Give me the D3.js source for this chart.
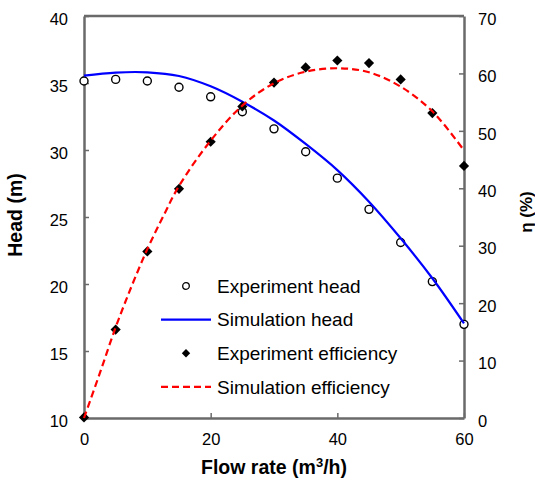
<!DOCTYPE html>
<html>
<head>
<meta charset="utf-8">
<script src="https://cdn.jsdelivr.net/npm/d3@7"></script>
<style>
  body { margin: 0; background: #fff; }
  text { font-family: "Liberation Sans", Arial, Helvetica, sans-serif; fill: #000; }
</style>
</head>
<body>
<div id="chart"></div>
<script>
// measured values
const flow = [0, 5, 10, 15, 20, 25, 30, 35, 40, 45, 50, 55, 60];
const expHead = [35.15, 35.27, 35.15, 34.68, 33.97, 32.86, 31.58, 29.87, 27.9, 25.57, 23.1, 20.18, 16.99];
const expEff = [0.1, 15.4, 29.0, 39.9, 48.1, 54.25, 58.4, 61.05, 62.25, 61.8, 58.95, 53.1, 43.9];

// simulation curves
const simHeadFlow = [0, 5, 10, 15, 20, 25, 30, 35, 40, 45, 50, 55, 60];
const simHead = [35.55, 35.78, 35.8, 35.52, 34.75, 33.6, 32.2, 30.45, 28.5, 26.14, 23.41, 20.43, 17.06];
const simEffFlow = [0, 2.5, 5, 7.5, 10, 12.5, 15, 20, 25, 30, 35, 40, 45, 50, 55, 60];
const simEff = [0, 7.8, 15.8, 22.9, 29.4, 35.1, 40.4, 48.3, 54.4, 58.3, 60.3, 60.9, 60.2, 57.7, 53.4, 46.6];

const xTicks = [0, 20, 40, 60];
const headTicks = [10, 15, 20, 25, 30, 35, 40];
const effTicks = [0, 10, 20, 30, 40, 50, 60, 70];
const legendLabels = ["Experiment head", "Simulation head", "Experiment efficiency", "Simulation efficiency"];

const W = 535, H = 484;
const margin = {top: 16, right: 71, bottom: 66, left: 84};
const width = W - margin.left - margin.right;
const height = H - margin.top - margin.bottom;
const axisColor = "#6a6a6a";

const svg = d3.select("#chart").append("svg")
    .attr("width", W)
    .attr("height", H);

const g = svg.append("g")
    .attr("transform", `translate(${margin.left},${margin.top})`);

const x = d3.scaleLinear().domain([0, 60]).range([0, width]);
const yL = d3.scaleLinear().domain([10, 40]).range([height, 0]);
const yR = d3.scaleLinear().domain([0, 70]).range([height, 0]);

// frame top line
g.append("line")
    .attr("x1", 0).attr("x2", width)
    .attr("y1", 0).attr("y2", 0)
    .attr("stroke", axisColor)
    .attr("stroke-width", 2.5);

function styleAxis(sel) {
  sel.select(".domain").attr("stroke", axisColor).attr("stroke-width", 2.5);
  sel.selectAll(".tick line").attr("stroke", axisColor).attr("stroke-width", 1.5);
  sel.selectAll(".tick text")
      .style("font-size", "16.5px")
      .style("font-family", '"Liberation Sans", Arial, sans-serif')
      .attr("fill", "#000");
}

g.append("g")
    .attr("transform", `translate(0,${height})`)
    .call(d3.axisBottom(x).tickValues(xTicks).tickSizeInner(-5).tickSizeOuter(0).tickPadding(15))
    .call(styleAxis);

g.append("g")
    .call(d3.axisLeft(yL).tickValues(headTicks).tickSizeInner(-5).tickSizeOuter(0).tickPadding(16))
    .call(styleAxis)
    .selectAll(".tick text").attr("dy", "0.5em");

g.append("g")
    .attr("transform", `translate(${width},0)`)
    .call(d3.axisRight(yR).tickValues(effTicks).tickSizeInner(-5).tickSizeOuter(0).tickPadding(14))
    .call(styleAxis)
    .selectAll(".tick text").attr("dy", "0.5em");

// experiment head (open circles)
g.append("g")
    .selectAll("circle")
    .data(flow)
    .enter()
    .append("circle")
    .attr("cx", (d, i) => x(d))
    .attr("cy", (d, i) => yL(expHead[i]))
    .attr("r", 4)
    .attr("fill", "#fff")
    .attr("stroke", "#000")
    .attr("stroke-width", 1.4);

// simulation head
const headLine = d3.line()
    .x((d, i) => x(simHeadFlow[i]))
    .y(d => yL(d))
    .curve(d3.curveCatmullRom);

g.append("path")
    .datum(simHead)
    .attr("d", headLine)
    .attr("fill", "none")
    .attr("stroke", "#0000ff")
    .attr("stroke-width", 2.2);

// experiment efficiency (diamonds)
const diamond = d3.symbol().type(d3.symbolDiamond2).size(66);
g.append("g")
    .selectAll("path")
    .data(flow)
    .enter()
    .append("path")
    .attr("d", diamond)
    .attr("transform", (d, i) => `translate(${x(d)},${yR(expEff[i])})`)
    .attr("fill", "#000");

// simulation efficiency
const effLine = d3.line()
    .x((d, i) => x(simEffFlow[i]))
    .y(d => yR(d))
    .curve(d3.curveCatmullRom);

g.append("path")
    .datum(simEff)
    .attr("d", effLine)
    .attr("fill", "none")
    .attr("stroke", "#ff0000")
    .attr("stroke-width", 2.2)
    .attr("stroke-dasharray", "7,4");

// legend
const legend = svg.append("g").attr("transform", "translate(161,286)");
const rowH = 33.6;
legendLabels.forEach((lab, i) => {
  const row = legend.append("g").attr("transform", `translate(0,${i * rowH})`);
  if (i === 0) {
    row.append("circle").attr("cx", 25).attr("cy", 0).attr("r", 3.3)
        .attr("fill", "#fff").attr("stroke", "#000").attr("stroke-width", 1.3);
  } else if (i === 2) {
    row.append("path").attr("d", d3.symbol().type(d3.symbolDiamond2).size(45))
        .attr("transform", "translate(25,0)").attr("fill", "#000");
  } else {
    row.append("line").attr("x1", 0).attr("x2", 50).attr("y1", 0).attr("y2", 0)
        .attr("stroke", i === 1 ? "#0000ff" : "#ff0000")
        .attr("stroke-width", 2.2)
        .attr("stroke-dasharray", i === 1 ? null : "7,4");
  }
  row.append("text")
      .attr("x", 56)
      .attr("y", 0)
      .attr("dy", "0.36em")
      .style("font-size", "19px")
      .text(lab);
});

// axis titles
const xt = svg.append("text")
    .attr("x", margin.left + width / 2)
    .attr("y", 474)
    .attr("text-anchor", "middle")
    .style("font-size", "19.5px")
    .style("font-weight", "bold");
xt.append("tspan").text("Flow rate (m");
xt.append("tspan").attr("dy", -7).style("font-size", "13px").text("3");
xt.append("tspan").attr("dy", 7).text("/h)");

svg.append("text")
    .attr("transform", "translate(22,215)rotate(-90)")
    .attr("text-anchor", "middle")
    .style("font-size", "19.5px")
    .style("font-weight", "bold")
    .text("Head (m)");

svg.append("text")
    .attr("transform", "translate(532,212)rotate(-90)")
    .attr("text-anchor", "middle")
    .style("font-size", "17px")
    .style("font-weight", "bold")
    .text("η (%)");
</script>
</body>
</html>
